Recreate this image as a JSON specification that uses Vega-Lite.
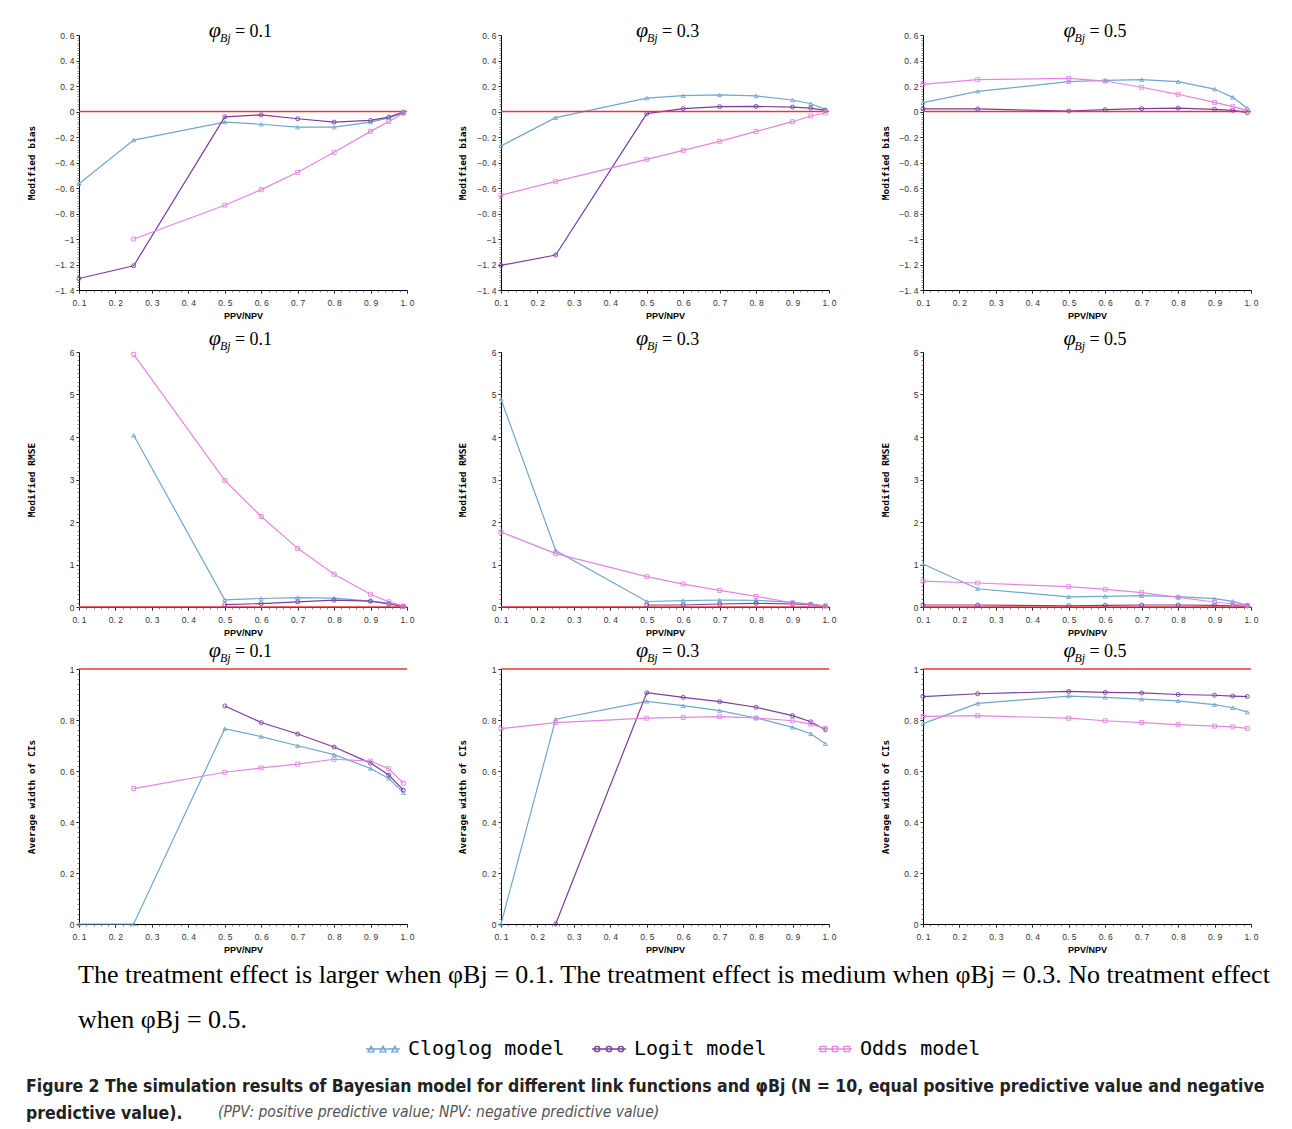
{
"$schema": "https://vega.github.io/schema/vega-lite/v6.json",
"background": "white",
"padding": {"left": 26, "top": 19, "right": 0, "bottom": 0},
"datasets": {"d": [
{"m":"bias","p":0.1,"model":"Cloglog model","x":0.1,"v":-0.566},{"m":"bias","p":0.1,"model":"Cloglog model","x":0.25,"v":-0.224},{"m":"bias","p":0.1,"model":"Cloglog model","x":0.5,"v":-0.083},{"m":"bias","p":0.1,"model":"Cloglog model","x":0.6,"v":-0.1},{"m":"bias","p":0.1,"model":"Cloglog model","x":0.7,"v":-0.123},{"m":"bias","p":0.1,"model":"Cloglog model","x":0.8,"v":-0.123},{"m":"bias","p":0.1,"model":"Cloglog model","x":0.9,"v":-0.083},{"m":"bias","p":0.1,"model":"Cloglog model","x":0.95,"v":-0.05},{"m":"bias","p":0.1,"model":"Cloglog model","x":0.99,"v":-0.01},
{"m":"bias","p":0.1,"model":"Logit model","x":0.1,"v":-1.31},{"m":"bias","p":0.1,"model":"Logit model","x":0.25,"v":-1.21},{"m":"bias","p":0.1,"model":"Logit model","x":0.5,"v":-0.042},{"m":"bias","p":0.1,"model":"Logit model","x":0.6,"v":-0.026},{"m":"bias","p":0.1,"model":"Logit model","x":0.7,"v":-0.057},{"m":"bias","p":0.1,"model":"Logit model","x":0.8,"v":-0.083},{"m":"bias","p":0.1,"model":"Logit model","x":0.9,"v":-0.07},{"m":"bias","p":0.1,"model":"Logit model","x":0.95,"v":-0.044},{"m":"bias","p":0.1,"model":"Logit model","x":0.99,"v":-0.005},
{"m":"bias","p":0.1,"model":"Odds model","x":0.25,"v":-1.0},{"m":"bias","p":0.1,"model":"Odds model","x":0.5,"v":-0.735},{"m":"bias","p":0.1,"model":"Odds model","x":0.6,"v":-0.613},{"m":"bias","p":0.1,"model":"Odds model","x":0.7,"v":-0.477},{"m":"bias","p":0.1,"model":"Odds model","x":0.8,"v":-0.32},{"m":"bias","p":0.1,"model":"Odds model","x":0.9,"v":-0.156},{"m":"bias","p":0.1,"model":"Odds model","x":0.95,"v":-0.078},{"m":"bias","p":0.1,"model":"Odds model","x":0.99,"v":-0.013},
{"m":"bias","p":0.3,"model":"Cloglog model","x":0.1,"v":-0.27},{"m":"bias","p":0.3,"model":"Cloglog model","x":0.25,"v":-0.048},{"m":"bias","p":0.3,"model":"Cloglog model","x":0.5,"v":0.105},{"m":"bias","p":0.3,"model":"Cloglog model","x":0.6,"v":0.124},{"m":"bias","p":0.3,"model":"Cloglog model","x":0.7,"v":0.13},{"m":"bias","p":0.3,"model":"Cloglog model","x":0.8,"v":0.122},{"m":"bias","p":0.3,"model":"Cloglog model","x":0.9,"v":0.09},{"m":"bias","p":0.3,"model":"Cloglog model","x":0.95,"v":0.061},{"m":"bias","p":0.3,"model":"Cloglog model","x":0.99,"v":0.017},
{"m":"bias","p":0.3,"model":"Logit model","x":0.1,"v":-1.207},{"m":"bias","p":0.3,"model":"Logit model","x":0.25,"v":-1.126},{"m":"bias","p":0.3,"model":"Logit model","x":0.5,"v":-0.017},{"m":"bias","p":0.3,"model":"Logit model","x":0.6,"v":0.022},{"m":"bias","p":0.3,"model":"Logit model","x":0.7,"v":0.038},{"m":"bias","p":0.3,"model":"Logit model","x":0.8,"v":0.04},{"m":"bias","p":0.3,"model":"Logit model","x":0.9,"v":0.035},{"m":"bias","p":0.3,"model":"Logit model","x":0.95,"v":0.027},{"m":"bias","p":0.3,"model":"Logit model","x":0.99,"v":0.009},
{"m":"bias","p":0.3,"model":"Odds model","x":0.1,"v":-0.657},{"m":"bias","p":0.3,"model":"Odds model","x":0.25,"v":-0.548},{"m":"bias","p":0.3,"model":"Odds model","x":0.5,"v":-0.375},{"m":"bias","p":0.3,"model":"Odds model","x":0.6,"v":-0.305},{"m":"bias","p":0.3,"model":"Odds model","x":0.7,"v":-0.234},{"m":"bias","p":0.3,"model":"Odds model","x":0.8,"v":-0.156},{"m":"bias","p":0.3,"model":"Odds model","x":0.9,"v":-0.08},{"m":"bias","p":0.3,"model":"Odds model","x":0.95,"v":-0.035},{"m":"bias","p":0.3,"model":"Odds model","x":0.99,"v":-0.012},
{"m":"bias","p":0.5,"model":"Cloglog model","x":0.1,"v":0.069},{"m":"bias","p":0.5,"model":"Cloglog model","x":0.25,"v":0.158},{"m":"bias","p":0.5,"model":"Cloglog model","x":0.5,"v":0.234},{"m":"bias","p":0.5,"model":"Cloglog model","x":0.6,"v":0.244},{"m":"bias","p":0.5,"model":"Cloglog model","x":0.7,"v":0.25},{"m":"bias","p":0.5,"model":"Cloglog model","x":0.8,"v":0.234},{"m":"bias","p":0.5,"model":"Cloglog model","x":0.9,"v":0.176},{"m":"bias","p":0.5,"model":"Cloglog model","x":0.95,"v":0.111},{"m":"bias","p":0.5,"model":"Cloglog model","x":0.99,"v":0.025},
{"m":"bias","p":0.5,"model":"Logit model","x":0.1,"v":0.02},{"m":"bias","p":0.5,"model":"Logit model","x":0.25,"v":0.02},{"m":"bias","p":0.5,"model":"Logit model","x":0.5,"v":0.004},{"m":"bias","p":0.5,"model":"Logit model","x":0.6,"v":0.014},{"m":"bias","p":0.5,"model":"Logit model","x":0.7,"v":0.022},{"m":"bias","p":0.5,"model":"Logit model","x":0.8,"v":0.027},{"m":"bias","p":0.5,"model":"Logit model","x":0.9,"v":0.017},{"m":"bias","p":0.5,"model":"Logit model","x":0.95,"v":0.009},{"m":"bias","p":0.5,"model":"Logit model","x":0.99,"v":-0.009},
{"m":"bias","p":0.5,"model":"Odds model","x":0.1,"v":0.213},{"m":"bias","p":0.5,"model":"Odds model","x":0.25,"v":0.25},{"m":"bias","p":0.5,"model":"Odds model","x":0.5,"v":0.26},{"m":"bias","p":0.5,"model":"Odds model","x":0.6,"v":0.239},{"m":"bias","p":0.5,"model":"Odds model","x":0.7,"v":0.19},{"m":"bias","p":0.5,"model":"Odds model","x":0.8,"v":0.135},{"m":"bias","p":0.5,"model":"Odds model","x":0.9,"v":0.072},{"m":"bias","p":0.5,"model":"Odds model","x":0.95,"v":0.038},{"m":"bias","p":0.5,"model":"Odds model","x":0.99,"v":0.009},
{"m":"rmse","p":0.1,"model":"Cloglog model","x":0.25,"v":4.04},{"m":"rmse","p":0.1,"model":"Cloglog model","x":0.5,"v":0.17},{"m":"rmse","p":0.1,"model":"Cloglog model","x":0.6,"v":0.2},{"m":"rmse","p":0.1,"model":"Cloglog model","x":0.7,"v":0.22},{"m":"rmse","p":0.1,"model":"Cloglog model","x":0.8,"v":0.21},{"m":"rmse","p":0.1,"model":"Cloglog model","x":0.9,"v":0.14},{"m":"rmse","p":0.1,"model":"Cloglog model","x":0.95,"v":0.09},{"m":"rmse","p":0.1,"model":"Cloglog model","x":0.99,"v":0.02},
{"m":"rmse","p":0.1,"model":"Logit model","x":0.5,"v":0.055},{"m":"rmse","p":0.1,"model":"Logit model","x":0.6,"v":0.08},{"m":"rmse","p":0.1,"model":"Logit model","x":0.7,"v":0.12},{"m":"rmse","p":0.1,"model":"Logit model","x":0.8,"v":0.16},{"m":"rmse","p":0.1,"model":"Logit model","x":0.9,"v":0.14},{"m":"rmse","p":0.1,"model":"Logit model","x":0.95,"v":0.07},{"m":"rmse","p":0.1,"model":"Logit model","x":0.99,"v":0.015},
{"m":"rmse","p":0.1,"model":"Odds model","x":0.25,"v":5.945},{"m":"rmse","p":0.1,"model":"Odds model","x":0.5,"v":2.98},{"m":"rmse","p":0.1,"model":"Odds model","x":0.6,"v":2.13},{"m":"rmse","p":0.1,"model":"Odds model","x":0.7,"v":1.38},{"m":"rmse","p":0.1,"model":"Odds model","x":0.8,"v":0.77},{"m":"rmse","p":0.1,"model":"Odds model","x":0.9,"v":0.3},{"m":"rmse","p":0.1,"model":"Odds model","x":0.95,"v":0.12},{"m":"rmse","p":0.1,"model":"Odds model","x":0.99,"v":0.02},
{"m":"rmse","p":0.3,"model":"Cloglog model","x":0.1,"v":4.89},{"m":"rmse","p":0.3,"model":"Cloglog model","x":0.25,"v":1.33},{"m":"rmse","p":0.3,"model":"Cloglog model","x":0.5,"v":0.13},{"m":"rmse","p":0.3,"model":"Cloglog model","x":0.6,"v":0.15},{"m":"rmse","p":0.3,"model":"Cloglog model","x":0.7,"v":0.165},{"m":"rmse","p":0.3,"model":"Cloglog model","x":0.8,"v":0.157},{"m":"rmse","p":0.3,"model":"Cloglog model","x":0.9,"v":0.11},{"m":"rmse","p":0.3,"model":"Cloglog model","x":0.95,"v":0.07},{"m":"rmse","p":0.3,"model":"Cloglog model","x":0.99,"v":0.03},
{"m":"rmse","p":0.3,"model":"Logit model","x":0.5,"v":0.047},{"m":"rmse","p":0.3,"model":"Logit model","x":0.6,"v":0.047},{"m":"rmse","p":0.3,"model":"Logit model","x":0.7,"v":0.07},{"m":"rmse","p":0.3,"model":"Logit model","x":0.8,"v":0.086},{"m":"rmse","p":0.3,"model":"Logit model","x":0.9,"v":0.07},{"m":"rmse","p":0.3,"model":"Logit model","x":0.95,"v":0.055},{"m":"rmse","p":0.3,"model":"Logit model","x":0.99,"v":0.024},
{"m":"rmse","p":0.3,"model":"Odds model","x":0.1,"v":1.765},{"m":"rmse","p":0.3,"model":"Odds model","x":0.25,"v":1.255},{"m":"rmse","p":0.3,"model":"Odds model","x":0.5,"v":0.714},{"m":"rmse","p":0.3,"model":"Odds model","x":0.6,"v":0.54},{"m":"rmse","p":0.3,"model":"Odds model","x":0.7,"v":0.39},{"m":"rmse","p":0.3,"model":"Odds model","x":0.8,"v":0.25},{"m":"rmse","p":0.3,"model":"Odds model","x":0.9,"v":0.1},{"m":"rmse","p":0.3,"model":"Odds model","x":0.95,"v":0.063},{"m":"rmse","p":0.3,"model":"Odds model","x":0.99,"v":0.024},
{"m":"rmse","p":0.5,"model":"Cloglog model","x":0.1,"v":1.01},{"m":"rmse","p":0.5,"model":"Cloglog model","x":0.25,"v":0.43},{"m":"rmse","p":0.5,"model":"Cloglog model","x":0.5,"v":0.24},{"m":"rmse","p":0.5,"model":"Cloglog model","x":0.6,"v":0.25},{"m":"rmse","p":0.5,"model":"Cloglog model","x":0.7,"v":0.267},{"m":"rmse","p":0.5,"model":"Cloglog model","x":0.8,"v":0.243},{"m":"rmse","p":0.5,"model":"Cloglog model","x":0.9,"v":0.196},{"m":"rmse","p":0.5,"model":"Cloglog model","x":0.95,"v":0.133},{"m":"rmse","p":0.5,"model":"Cloglog model","x":0.99,"v":0.04},
{"m":"rmse","p":0.5,"model":"Logit model","x":0.1,"v":0.047},{"m":"rmse","p":0.5,"model":"Logit model","x":0.25,"v":0.047},{"m":"rmse","p":0.5,"model":"Logit model","x":0.5,"v":0.03},{"m":"rmse","p":0.5,"model":"Logit model","x":0.6,"v":0.04},{"m":"rmse","p":0.5,"model":"Logit model","x":0.7,"v":0.047},{"m":"rmse","p":0.5,"model":"Logit model","x":0.8,"v":0.047},{"m":"rmse","p":0.5,"model":"Logit model","x":0.9,"v":0.04},{"m":"rmse","p":0.5,"model":"Logit model","x":0.95,"v":0.03},{"m":"rmse","p":0.5,"model":"Logit model","x":0.99,"v":0.024},
{"m":"rmse","p":0.5,"model":"Odds model","x":0.1,"v":0.61},{"m":"rmse","p":0.5,"model":"Odds model","x":0.25,"v":0.565},{"m":"rmse","p":0.5,"model":"Odds model","x":0.5,"v":0.478},{"m":"rmse","p":0.5,"model":"Odds model","x":0.6,"v":0.416},{"m":"rmse","p":0.5,"model":"Odds model","x":0.7,"v":0.337},{"m":"rmse","p":0.5,"model":"Odds model","x":0.8,"v":0.227},{"m":"rmse","p":0.5,"model":"Odds model","x":0.9,"v":0.118},{"m":"rmse","p":0.5,"model":"Odds model","x":0.95,"v":0.07},{"m":"rmse","p":0.5,"model":"Odds model","x":0.99,"v":0.04},
{"m":"ciw","p":0.1,"model":"Cloglog model","x":0.1,"v":0},{"m":"ciw","p":0.1,"model":"Cloglog model","x":0.25,"v":0},{"m":"ciw","p":0.1,"model":"Cloglog model","x":0.5,"v":0.766},{"m":"ciw","p":0.1,"model":"Cloglog model","x":0.6,"v":0.735},{"m":"ciw","p":0.1,"model":"Cloglog model","x":0.7,"v":0.699},{"m":"ciw","p":0.1,"model":"Cloglog model","x":0.8,"v":0.664},{"m":"ciw","p":0.1,"model":"Cloglog model","x":0.9,"v":0.61},{"m":"ciw","p":0.1,"model":"Cloglog model","x":0.95,"v":0.571},{"m":"ciw","p":0.1,"model":"Cloglog model","x":0.99,"v":0.515},
{"m":"ciw","p":0.1,"model":"Logit model","x":0.5,"v":0.855},{"m":"ciw","p":0.1,"model":"Logit model","x":0.6,"v":0.79},{"m":"ciw","p":0.1,"model":"Logit model","x":0.7,"v":0.745},{"m":"ciw","p":0.1,"model":"Logit model","x":0.8,"v":0.694},{"m":"ciw","p":0.1,"model":"Logit model","x":0.9,"v":0.631},{"m":"ciw","p":0.1,"model":"Logit model","x":0.95,"v":0.584},{"m":"ciw","p":0.1,"model":"Logit model","x":0.99,"v":0.525},
{"m":"ciw","p":0.1,"model":"Odds model","x":0.25,"v":0.531},{"m":"ciw","p":0.1,"model":"Odds model","x":0.5,"v":0.595},{"m":"ciw","p":0.1,"model":"Odds model","x":0.6,"v":0.612},{"m":"ciw","p":0.1,"model":"Odds model","x":0.7,"v":0.627},{"m":"ciw","p":0.1,"model":"Odds model","x":0.8,"v":0.646},{"m":"ciw","p":0.1,"model":"Odds model","x":0.9,"v":0.639},{"m":"ciw","p":0.1,"model":"Odds model","x":0.95,"v":0.609},{"m":"ciw","p":0.1,"model":"Odds model","x":0.99,"v":0.552},
{"m":"ciw","p":0.3,"model":"Cloglog model","x":0.1,"v":0},{"m":"ciw","p":0.3,"model":"Cloglog model","x":0.25,"v":0.803},{"m":"ciw","p":0.3,"model":"Cloglog model","x":0.5,"v":0.873},{"m":"ciw","p":0.3,"model":"Cloglog model","x":0.6,"v":0.856},{"m":"ciw","p":0.3,"model":"Cloglog model","x":0.7,"v":0.837},{"m":"ciw","p":0.3,"model":"Cloglog model","x":0.8,"v":0.808},{"m":"ciw","p":0.3,"model":"Cloglog model","x":0.9,"v":0.771},{"m":"ciw","p":0.3,"model":"Cloglog model","x":0.95,"v":0.746},{"m":"ciw","p":0.3,"model":"Cloglog model","x":0.99,"v":0.707},
{"m":"ciw","p":0.3,"model":"Logit model","x":0.25,"v":0},{"m":"ciw","p":0.3,"model":"Logit model","x":0.5,"v":0.907},{"m":"ciw","p":0.3,"model":"Logit model","x":0.6,"v":0.889},{"m":"ciw","p":0.3,"model":"Logit model","x":0.7,"v":0.872},{"m":"ciw","p":0.3,"model":"Logit model","x":0.8,"v":0.85},{"m":"ciw","p":0.3,"model":"Logit model","x":0.9,"v":0.817},{"m":"ciw","p":0.3,"model":"Logit model","x":0.95,"v":0.793},{"m":"ciw","p":0.3,"model":"Logit model","x":0.99,"v":0.762},
{"m":"ciw","p":0.3,"model":"Odds model","x":0.1,"v":0.766},{"m":"ciw","p":0.3,"model":"Odds model","x":0.25,"v":0.79},{"m":"ciw","p":0.3,"model":"Odds model","x":0.5,"v":0.807},{"m":"ciw","p":0.3,"model":"Odds model","x":0.6,"v":0.81},{"m":"ciw","p":0.3,"model":"Odds model","x":0.7,"v":0.813},{"m":"ciw","p":0.3,"model":"Odds model","x":0.8,"v":0.808},{"m":"ciw","p":0.3,"model":"Odds model","x":0.9,"v":0.797},{"m":"ciw","p":0.3,"model":"Odds model","x":0.95,"v":0.784},{"m":"ciw","p":0.3,"model":"Odds model","x":0.99,"v":0.767},
{"m":"ciw","p":0.5,"model":"Cloglog model","x":0.1,"v":0.786},{"m":"ciw","p":0.5,"model":"Cloglog model","x":0.25,"v":0.865},{"m":"ciw","p":0.5,"model":"Cloglog model","x":0.5,"v":0.894},{"m":"ciw","p":0.5,"model":"Cloglog model","x":0.6,"v":0.889},{"m":"ciw","p":0.5,"model":"Cloglog model","x":0.7,"v":0.882},{"m":"ciw","p":0.5,"model":"Cloglog model","x":0.8,"v":0.875},{"m":"ciw","p":0.5,"model":"Cloglog model","x":0.9,"v":0.86},{"m":"ciw","p":0.5,"model":"Cloglog model","x":0.95,"v":0.848},{"m":"ciw","p":0.5,"model":"Cloglog model","x":0.99,"v":0.831},
{"m":"ciw","p":0.5,"model":"Logit model","x":0.1,"v":0.892},{"m":"ciw","p":0.5,"model":"Logit model","x":0.25,"v":0.903},{"m":"ciw","p":0.5,"model":"Logit model","x":0.5,"v":0.912},{"m":"ciw","p":0.5,"model":"Logit model","x":0.6,"v":0.908},{"m":"ciw","p":0.5,"model":"Logit model","x":0.7,"v":0.906},{"m":"ciw","p":0.5,"model":"Logit model","x":0.8,"v":0.9},{"m":"ciw","p":0.5,"model":"Logit model","x":0.9,"v":0.897},{"m":"ciw","p":0.5,"model":"Logit model","x":0.95,"v":0.894},{"m":"ciw","p":0.5,"model":"Logit model","x":0.99,"v":0.892},
{"m":"ciw","p":0.5,"model":"Odds model","x":0.1,"v":0.814},{"m":"ciw","p":0.5,"model":"Odds model","x":0.25,"v":0.817},{"m":"ciw","p":0.5,"model":"Odds model","x":0.5,"v":0.807},{"m":"ciw","p":0.5,"model":"Odds model","x":0.6,"v":0.797},{"m":"ciw","p":0.5,"model":"Odds model","x":0.7,"v":0.79},{"m":"ciw","p":0.5,"model":"Odds model","x":0.8,"v":0.782},{"m":"ciw","p":0.5,"model":"Odds model","x":0.9,"v":0.776},{"m":"ciw","p":0.5,"model":"Odds model","x":0.95,"v":0.773},{"m":"ciw","p":0.5,"model":"Odds model","x":0.99,"v":0.767}
]},
"title": {"text": "(PPV: positive predictive value; NPV: negative predictive value)", "orient": "bottom", "anchor": "start", "offset": -17, "dx": 192, "font": "DejaVu Sans Condensed, Roboto", "fontStyle": "italic", "fontWeight": "normal", "fontSize": 15.5, "color": "#555"},
"vconcat": [
{
"title": {"text": ["Figure 2 The simulation results of Bayesian model for different link functions and φBj (N = 10, equal positive predictive value and negative", "predictive value)."], "orient": "bottom", "anchor": "start", "offset": 45, "font": "DejaVu Sans Condensed, Roboto", "fontWeight": "bold", "fontSize": 17.5, "lineHeight": 27, "color": "#222"},
"vconcat": [
{
"columns": 3,
"spacing": {"row": 62, "column": 94},
"bounds": "flush",
"title": {"text": ["The treatment effect is larger when φBj = 0.1. The treatment effect is medium when φBj = 0.3. No treatment effect", "when φBj = 0.5."], "orient": "bottom", "anchor": "start", "frame": "group", "offset": 7, "dx": -1, "font": "Liberation Serif", "fontSize": 26, "fontWeight": "normal", "color": "#000", "lineHeight": 45},
"concat": [
{"width": 328, "height": 255, "resolve": {"axis": {"x": "independent", "y": "independent"}}, "layer": [
 {"data": {"name": "d"}, "transform": [{"filter": "datum.m==='bias' && datum.p===0.1"}], "mark": {"type": "line", "strokeWidth": 1.2}, "encoding": {
   "x": {"field": "x", "type": "quantitative", "scale": {"domain": [0.1, 1.0], "nice": false, "zero": false}, "axis": {"values": [0.1,0.2,0.3,0.4,0.5,0.6,0.7,0.8,0.9,1.0], "labelExpr": "replace(format(datum.value, '.1f'), '.', '. ')", "title": "PPV/NPV"}},
   "y": {"field": "v", "type": "quantitative", "scale": {"domain": [-1.4, 0.6], "nice": false, "zero": false}, "axis": {"values": [-1.4,-1.2,-1,-0.8,-0.6,-0.4,-0.2,0,0.2,0.4,0.6], "labelExpr": "replace(format(datum.value, '~g'), '.', '. ')", "title": "Modified bias", "titlePadding": 13}},
   "detail": {"field": "model"},
   "color": {"condition": [{"test": "datum.model==='Cloglog model'", "value": "#6fa7cf"}, {"test": "datum.model==='Logit model'", "value": "#7a3e9d"}], "value": "#e486e1"}}},
 {"data": {"values": [{}]}, "mark": {"type": "rule", "color": "#f03434", "strokeWidth": 1.3}, "encoding": {"y": {"datum": 0, "type": "quantitative", "axis": null}}},
 {"data": {"name": "d"}, "transform": [{"filter": "datum.m==='bias' && datum.p===0.1"}], "mark": {"type": "point", "filled": false, "size": 16, "strokeWidth": 0.9, "opacity": 1}, "encoding": {
   "x": {"field": "x", "type": "quantitative", "axis": {"orient": "bottom", "tickCount": 45, "labels": false, "domain": false, "title": null, "tickSize": 2, "tickWidth": 0.7, "tickColor": "#555"}},
   "y": {"field": "v", "type": "quantitative", "axis": {"orient": "left", "tickCount": 100, "labels": false, "domain": false, "title": null, "tickSize": 2, "tickWidth": 0.7, "tickColor": "#555"}},
   "color": {"condition": [{"test": "datum.model==='Cloglog model'", "value": "#6fa7cf"}, {"test": "datum.model==='Logit model'", "value": "#7a3e9d"}], "value": "#e486e1"},
   "shape": {"condition": [{"test": "datum.model==='Cloglog model'", "value": "triangle-up"}, {"test": "datum.model==='Logit model'", "value": "circle"}], "value": "square"}}},
 {"data": {"name": "d"}, "transform": [{"filter": "false"}], "mark": {"type": "point", "filled": false, "strokeWidth": 1.3, "opacity": 1}, "encoding": {
   "x": {"field": "x", "type": "quantitative", "axis": null},
   "y": {"field": "v", "type": "quantitative", "axis": null},
   "color": {"field": "model", "type": "nominal", "scale": {"domain": ["Cloglog model","Logit model","Odds model"], "range": ["#6fa7cf","#7a3e9d","#e486e1"]}, "legend": {"orient": "none", "legendX": 286, "legendY": 996, "direction": "horizontal", "columns": 3, "gridAlign": "all", "title": null}},
   "shape": {"field": "model", "type": "nominal", "scale": {"domain": ["Cloglog model","Logit model","Odds model"], "range": ["M-1,0H1M-0.88,0.17L-0.7,-0.17L-0.52,0.17ZM-0.18,0.17L0,-0.17L0.18,0.17ZM0.52,0.17L0.7,-0.17L0.88,0.17Z", "M-1,0H1M-0.54,0A0.16,0.16,0,1,1,-0.86,0A0.16,0.16,0,1,1,-0.54,0ZM0.16,0A0.16,0.16,0,1,1,-0.16,0A0.16,0.16,0,1,1,0.16,0ZM0.86,0A0.16,0.16,0,1,1,0.54,0A0.16,0.16,0,1,1,0.86,0Z", "M-1,0H1M-0.86,-0.16H-0.54V0.16H-0.86ZM-0.16,-0.16H0.16V0.16H-0.16ZM0.54,-0.16H0.86V0.16H0.54Z"]}, "legend": {"orient": "none", "legendX": 286, "legendY": 996, "direction": "horizontal", "columns": 3, "gridAlign": "all", "title": null}}}},
 {"data": {"values": [{}]}, "mark": {"type": "text", "text": "φ", "font": "Liberation Serif", "fontStyle": "italic", "fontSize": 22, "align": "center", "baseline": "alphabetic", "dx": -23, "dy": 2, "color": "#000"}, "encoding": {"x": {"datum": 0.536, "type": "quantitative", "axis": null}, "y": {"datum": 0.6, "type": "quantitative", "axis": null}}},
 {"data": {"values": [{}]}, "mark": {"type": "text", "text": "Bj", "font": "Liberation Serif", "fontStyle": "italic", "fontSize": 12, "align": "left", "baseline": "alphabetic", "dx": -18, "dy": 7, "color": "#000"}, "encoding": {"x": {"datum": 0.536, "type": "quantitative", "axis": null}, "y": {"datum": 0.6, "type": "quantitative", "axis": null}}},
 {"data": {"values": [{}]}, "mark": {"type": "text", "text": "= 0.1", "font": "Liberation Serif", "fontSize": 18, "align": "left", "baseline": "alphabetic", "dx": -3, "dy": 2, "color": "#000"}, "encoding": {"x": {"datum": 0.536, "type": "quantitative", "axis": null}, "y": {"datum": 0.6, "type": "quantitative", "axis": null}}}
]},
{"width": 328, "height": 255, "resolve": {"axis": {"x": "independent", "y": "independent"}}, "layer": [
 {"data": {"name": "d"}, "transform": [{"filter": "datum.m==='bias' && datum.p===0.3"}], "mark": {"type": "line", "strokeWidth": 1.2}, "encoding": {
   "x": {"field": "x", "type": "quantitative", "scale": {"domain": [0.1, 1.0], "nice": false, "zero": false}, "axis": {"values": [0.1,0.2,0.3,0.4,0.5,0.6,0.7,0.8,0.9,1.0], "labelExpr": "replace(format(datum.value, '.1f'), '.', '. ')", "title": "PPV/NPV"}},
   "y": {"field": "v", "type": "quantitative", "scale": {"domain": [-1.4, 0.6], "nice": false, "zero": false}, "axis": {"values": [-1.4,-1.2,-1,-0.8,-0.6,-0.4,-0.2,0,0.2,0.4,0.6], "labelExpr": "replace(format(datum.value, '~g'), '.', '. ')", "title": "Modified bias", "titlePadding": 4}},
   "detail": {"field": "model"},
   "color": {"condition": [{"test": "datum.model==='Cloglog model'", "value": "#6fa7cf"}, {"test": "datum.model==='Logit model'", "value": "#7a3e9d"}], "value": "#e486e1"}}},
 {"data": {"values": [{}]}, "mark": {"type": "rule", "color": "#f03434", "strokeWidth": 1.3}, "encoding": {"y": {"datum": 0, "type": "quantitative", "axis": null}}},
 {"data": {"name": "d"}, "transform": [{"filter": "datum.m==='bias' && datum.p===0.3"}], "mark": {"type": "point", "filled": false, "size": 16, "strokeWidth": 0.9, "opacity": 1}, "encoding": {
   "x": {"field": "x", "type": "quantitative", "axis": {"orient": "bottom", "tickCount": 45, "labels": false, "domain": false, "title": null, "tickSize": 2, "tickWidth": 0.7, "tickColor": "#555"}},
   "y": {"field": "v", "type": "quantitative", "axis": {"orient": "left", "tickCount": 100, "labels": false, "domain": false, "title": null, "tickSize": 2, "tickWidth": 0.7, "tickColor": "#555"}},
   "color": {"condition": [{"test": "datum.model==='Cloglog model'", "value": "#6fa7cf"}, {"test": "datum.model==='Logit model'", "value": "#7a3e9d"}], "value": "#e486e1"},
   "shape": {"condition": [{"test": "datum.model==='Cloglog model'", "value": "triangle-up"}, {"test": "datum.model==='Logit model'", "value": "circle"}], "value": "square"}}},
 {"data": {"values": [{}]}, "mark": {"type": "text", "text": "φ", "font": "Liberation Serif", "fontStyle": "italic", "fontSize": 22, "align": "center", "baseline": "alphabetic", "dx": -23, "dy": 2, "color": "#000"}, "encoding": {"x": {"datum": 0.55, "type": "quantitative", "axis": null}, "y": {"datum": 0.6, "type": "quantitative", "axis": null}}},
 {"data": {"values": [{}]}, "mark": {"type": "text", "text": "Bj", "font": "Liberation Serif", "fontStyle": "italic", "fontSize": 12, "align": "left", "baseline": "alphabetic", "dx": -18, "dy": 7, "color": "#000"}, "encoding": {"x": {"datum": 0.55, "type": "quantitative", "axis": null}, "y": {"datum": 0.6, "type": "quantitative", "axis": null}}},
 {"data": {"values": [{}]}, "mark": {"type": "text", "text": "= 0.3", "font": "Liberation Serif", "fontSize": 18, "align": "left", "baseline": "alphabetic", "dx": -3, "dy": 2, "color": "#000"}, "encoding": {"x": {"datum": 0.55, "type": "quantitative", "axis": null}, "y": {"datum": 0.6, "type": "quantitative", "axis": null}}}
]},
{"width": 328, "height": 255, "resolve": {"axis": {"x": "independent", "y": "independent"}}, "layer": [
 {"data": {"name": "d"}, "transform": [{"filter": "datum.m==='bias' && datum.p===0.5"}], "mark": {"type": "line", "strokeWidth": 1.2}, "encoding": {
   "x": {"field": "x", "type": "quantitative", "scale": {"domain": [0.1, 1.0], "nice": false, "zero": false}, "axis": {"values": [0.1,0.2,0.3,0.4,0.5,0.6,0.7,0.8,0.9,1.0], "labelExpr": "replace(format(datum.value, '.1f'), '.', '. ')", "title": "PPV/NPV"}},
   "y": {"field": "v", "type": "quantitative", "scale": {"domain": [-1.4, 0.6], "nice": false, "zero": false}, "axis": {"values": [-1.4,-1.2,-1,-0.8,-0.6,-0.4,-0.2,0,0.2,0.4,0.6], "labelExpr": "replace(format(datum.value, '~g'), '.', '. ')", "title": "Modified bias", "titlePadding": 3}},
   "detail": {"field": "model"},
   "color": {"condition": [{"test": "datum.model==='Cloglog model'", "value": "#6fa7cf"}, {"test": "datum.model==='Logit model'", "value": "#7a3e9d"}], "value": "#e486e1"}}},
 {"data": {"values": [{}]}, "mark": {"type": "rule", "color": "#f03434", "strokeWidth": 1.3}, "encoding": {"y": {"datum": 0, "type": "quantitative", "axis": null}}},
 {"data": {"name": "d"}, "transform": [{"filter": "datum.m==='bias' && datum.p===0.5"}], "mark": {"type": "point", "filled": false, "size": 16, "strokeWidth": 0.9, "opacity": 1}, "encoding": {
   "x": {"field": "x", "type": "quantitative", "axis": {"orient": "bottom", "tickCount": 45, "labels": false, "domain": false, "title": null, "tickSize": 2, "tickWidth": 0.7, "tickColor": "#555"}},
   "y": {"field": "v", "type": "quantitative", "axis": {"orient": "left", "tickCount": 100, "labels": false, "domain": false, "title": null, "tickSize": 2, "tickWidth": 0.7, "tickColor": "#555"}},
   "color": {"condition": [{"test": "datum.model==='Cloglog model'", "value": "#6fa7cf"}, {"test": "datum.model==='Logit model'", "value": "#7a3e9d"}], "value": "#e486e1"},
   "shape": {"condition": [{"test": "datum.model==='Cloglog model'", "value": "triangle-up"}, {"test": "datum.model==='Logit model'", "value": "circle"}], "value": "square"}}},
 {"data": {"values": [{}]}, "mark": {"type": "text", "text": "φ", "font": "Liberation Serif", "fontStyle": "italic", "fontSize": 22, "align": "center", "baseline": "alphabetic", "dx": -23, "dy": 2, "color": "#000"}, "encoding": {"x": {"datum": 0.565, "type": "quantitative", "axis": null}, "y": {"datum": 0.6, "type": "quantitative", "axis": null}}},
 {"data": {"values": [{}]}, "mark": {"type": "text", "text": "Bj", "font": "Liberation Serif", "fontStyle": "italic", "fontSize": 12, "align": "left", "baseline": "alphabetic", "dx": -18, "dy": 7, "color": "#000"}, "encoding": {"x": {"datum": 0.565, "type": "quantitative", "axis": null}, "y": {"datum": 0.6, "type": "quantitative", "axis": null}}},
 {"data": {"values": [{}]}, "mark": {"type": "text", "text": "= 0.5", "font": "Liberation Serif", "fontSize": 18, "align": "left", "baseline": "alphabetic", "dx": -3, "dy": 2, "color": "#000"}, "encoding": {"x": {"datum": 0.565, "type": "quantitative", "axis": null}, "y": {"datum": 0.6, "type": "quantitative", "axis": null}}}
]},
{"width": 328, "height": 255, "resolve": {"axis": {"x": "independent", "y": "independent"}}, "layer": [
 {"data": {"name": "d"}, "transform": [{"filter": "datum.m==='rmse' && datum.p===0.1"}], "mark": {"type": "line", "strokeWidth": 1.2}, "encoding": {
   "x": {"field": "x", "type": "quantitative", "scale": {"domain": [0.1, 1.0], "nice": false, "zero": false}, "axis": {"values": [0.1,0.2,0.3,0.4,0.5,0.6,0.7,0.8,0.9,1.0], "labelExpr": "replace(format(datum.value, '.1f'), '.', '. ')", "title": "PPV/NPV"}},
   "y": {"field": "v", "type": "quantitative", "scale": {"domain": [0, 6], "nice": false, "zero": false}, "axis": {"values": [0,1,2,3,4,5,6], "labelExpr": "replace(format(datum.value, '~g'), '.', '. ')", "title": "Modified RMSE", "titlePadding": 13}},
   "detail": {"field": "model"},
   "color": {"condition": [{"test": "datum.model==='Cloglog model'", "value": "#6fa7cf"}, {"test": "datum.model==='Logit model'", "value": "#7a3e9d"}], "value": "#e486e1"}}},
 {"data": {"values": [{}]}, "mark": {"type": "rule", "color": "#f03434", "strokeWidth": 1.3}, "encoding": {"y": {"datum": 0, "type": "quantitative", "axis": null}}},
 {"data": {"name": "d"}, "transform": [{"filter": "datum.m==='rmse' && datum.p===0.1"}], "mark": {"type": "point", "filled": false, "size": 16, "strokeWidth": 0.9, "opacity": 1}, "encoding": {
   "x": {"field": "x", "type": "quantitative", "axis": {"orient": "bottom", "tickCount": 45, "labels": false, "domain": false, "title": null, "tickSize": 2, "tickWidth": 0.7, "tickColor": "#555"}},
   "y": {"field": "v", "type": "quantitative", "axis": {"orient": "left", "tickCount": 60, "labels": false, "domain": false, "title": null, "tickSize": 2, "tickWidth": 0.7, "tickColor": "#555"}},
   "color": {"condition": [{"test": "datum.model==='Cloglog model'", "value": "#6fa7cf"}, {"test": "datum.model==='Logit model'", "value": "#7a3e9d"}], "value": "#e486e1"},
   "shape": {"condition": [{"test": "datum.model==='Cloglog model'", "value": "triangle-up"}, {"test": "datum.model==='Logit model'", "value": "circle"}], "value": "square"}}},
 {"data": {"values": [{}]}, "mark": {"type": "text", "text": "φ", "font": "Liberation Serif", "fontStyle": "italic", "fontSize": 22, "align": "center", "baseline": "alphabetic", "dx": -23, "dy": -7, "color": "#000"}, "encoding": {"x": {"datum": 0.536, "type": "quantitative", "axis": null}, "y": {"datum": 6, "type": "quantitative", "axis": null}}},
 {"data": {"values": [{}]}, "mark": {"type": "text", "text": "Bj", "font": "Liberation Serif", "fontStyle": "italic", "fontSize": 12, "align": "left", "baseline": "alphabetic", "dx": -18, "dy": -2, "color": "#000"}, "encoding": {"x": {"datum": 0.536, "type": "quantitative", "axis": null}, "y": {"datum": 6, "type": "quantitative", "axis": null}}},
 {"data": {"values": [{}]}, "mark": {"type": "text", "text": "= 0.1", "font": "Liberation Serif", "fontSize": 18, "align": "left", "baseline": "alphabetic", "dx": -3, "dy": -7, "color": "#000"}, "encoding": {"x": {"datum": 0.536, "type": "quantitative", "axis": null}, "y": {"datum": 6, "type": "quantitative", "axis": null}}}
]},
{"width": 328, "height": 255, "resolve": {"axis": {"x": "independent", "y": "independent"}}, "layer": [
 {"data": {"name": "d"}, "transform": [{"filter": "datum.m==='rmse' && datum.p===0.3"}], "mark": {"type": "line", "strokeWidth": 1.2}, "encoding": {
   "x": {"field": "x", "type": "quantitative", "scale": {"domain": [0.1, 1.0], "nice": false, "zero": false}, "axis": {"values": [0.1,0.2,0.3,0.4,0.5,0.6,0.7,0.8,0.9,1.0], "labelExpr": "replace(format(datum.value, '.1f'), '.', '. ')", "title": "PPV/NPV"}},
   "y": {"field": "v", "type": "quantitative", "scale": {"domain": [0, 6], "nice": false, "zero": false}, "axis": {"values": [0,1,2,3,4,5,6], "labelExpr": "replace(format(datum.value, '~g'), '.', '. ')", "title": "Modified RMSE", "titlePadding": 4}},
   "detail": {"field": "model"},
   "color": {"condition": [{"test": "datum.model==='Cloglog model'", "value": "#6fa7cf"}, {"test": "datum.model==='Logit model'", "value": "#7a3e9d"}], "value": "#e486e1"}}},
 {"data": {"values": [{}]}, "mark": {"type": "rule", "color": "#f03434", "strokeWidth": 1.3}, "encoding": {"y": {"datum": 0, "type": "quantitative", "axis": null}}},
 {"data": {"name": "d"}, "transform": [{"filter": "datum.m==='rmse' && datum.p===0.3"}], "mark": {"type": "point", "filled": false, "size": 16, "strokeWidth": 0.9, "opacity": 1}, "encoding": {
   "x": {"field": "x", "type": "quantitative", "axis": {"orient": "bottom", "tickCount": 45, "labels": false, "domain": false, "title": null, "tickSize": 2, "tickWidth": 0.7, "tickColor": "#555"}},
   "y": {"field": "v", "type": "quantitative", "axis": {"orient": "left", "tickCount": 60, "labels": false, "domain": false, "title": null, "tickSize": 2, "tickWidth": 0.7, "tickColor": "#555"}},
   "color": {"condition": [{"test": "datum.model==='Cloglog model'", "value": "#6fa7cf"}, {"test": "datum.model==='Logit model'", "value": "#7a3e9d"}], "value": "#e486e1"},
   "shape": {"condition": [{"test": "datum.model==='Cloglog model'", "value": "triangle-up"}, {"test": "datum.model==='Logit model'", "value": "circle"}], "value": "square"}}},
 {"data": {"values": [{}]}, "mark": {"type": "text", "text": "φ", "font": "Liberation Serif", "fontStyle": "italic", "fontSize": 22, "align": "center", "baseline": "alphabetic", "dx": -23, "dy": -7, "color": "#000"}, "encoding": {"x": {"datum": 0.55, "type": "quantitative", "axis": null}, "y": {"datum": 6, "type": "quantitative", "axis": null}}},
 {"data": {"values": [{}]}, "mark": {"type": "text", "text": "Bj", "font": "Liberation Serif", "fontStyle": "italic", "fontSize": 12, "align": "left", "baseline": "alphabetic", "dx": -18, "dy": -2, "color": "#000"}, "encoding": {"x": {"datum": 0.55, "type": "quantitative", "axis": null}, "y": {"datum": 6, "type": "quantitative", "axis": null}}},
 {"data": {"values": [{}]}, "mark": {"type": "text", "text": "= 0.3", "font": "Liberation Serif", "fontSize": 18, "align": "left", "baseline": "alphabetic", "dx": -3, "dy": -7, "color": "#000"}, "encoding": {"x": {"datum": 0.55, "type": "quantitative", "axis": null}, "y": {"datum": 6, "type": "quantitative", "axis": null}}}
]},
{"width": 328, "height": 255, "resolve": {"axis": {"x": "independent", "y": "independent"}}, "layer": [
 {"data": {"name": "d"}, "transform": [{"filter": "datum.m==='rmse' && datum.p===0.5"}], "mark": {"type": "line", "strokeWidth": 1.2}, "encoding": {
   "x": {"field": "x", "type": "quantitative", "scale": {"domain": [0.1, 1.0], "nice": false, "zero": false}, "axis": {"values": [0.1,0.2,0.3,0.4,0.5,0.6,0.7,0.8,0.9,1.0], "labelExpr": "replace(format(datum.value, '.1f'), '.', '. ')", "title": "PPV/NPV"}},
   "y": {"field": "v", "type": "quantitative", "scale": {"domain": [0, 6], "nice": false, "zero": false}, "axis": {"values": [0,1,2,3,4,5,6], "labelExpr": "replace(format(datum.value, '~g'), '.', '. ')", "title": "Modified RMSE", "titlePadding": 3}},
   "detail": {"field": "model"},
   "color": {"condition": [{"test": "datum.model==='Cloglog model'", "value": "#6fa7cf"}, {"test": "datum.model==='Logit model'", "value": "#7a3e9d"}], "value": "#e486e1"}}},
 {"data": {"values": [{}]}, "mark": {"type": "rule", "color": "#f03434", "strokeWidth": 1.3}, "encoding": {"y": {"datum": 0, "type": "quantitative", "axis": null}}},
 {"data": {"name": "d"}, "transform": [{"filter": "datum.m==='rmse' && datum.p===0.5"}], "mark": {"type": "point", "filled": false, "size": 16, "strokeWidth": 0.9, "opacity": 1}, "encoding": {
   "x": {"field": "x", "type": "quantitative", "axis": {"orient": "bottom", "tickCount": 45, "labels": false, "domain": false, "title": null, "tickSize": 2, "tickWidth": 0.7, "tickColor": "#555"}},
   "y": {"field": "v", "type": "quantitative", "axis": {"orient": "left", "tickCount": 60, "labels": false, "domain": false, "title": null, "tickSize": 2, "tickWidth": 0.7, "tickColor": "#555"}},
   "color": {"condition": [{"test": "datum.model==='Cloglog model'", "value": "#6fa7cf"}, {"test": "datum.model==='Logit model'", "value": "#7a3e9d"}], "value": "#e486e1"},
   "shape": {"condition": [{"test": "datum.model==='Cloglog model'", "value": "triangle-up"}, {"test": "datum.model==='Logit model'", "value": "circle"}], "value": "square"}}},
 {"data": {"values": [{}]}, "mark": {"type": "text", "text": "φ", "font": "Liberation Serif", "fontStyle": "italic", "fontSize": 22, "align": "center", "baseline": "alphabetic", "dx": -23, "dy": -7, "color": "#000"}, "encoding": {"x": {"datum": 0.565, "type": "quantitative", "axis": null}, "y": {"datum": 6, "type": "quantitative", "axis": null}}},
 {"data": {"values": [{}]}, "mark": {"type": "text", "text": "Bj", "font": "Liberation Serif", "fontStyle": "italic", "fontSize": 12, "align": "left", "baseline": "alphabetic", "dx": -18, "dy": -2, "color": "#000"}, "encoding": {"x": {"datum": 0.565, "type": "quantitative", "axis": null}, "y": {"datum": 6, "type": "quantitative", "axis": null}}},
 {"data": {"values": [{}]}, "mark": {"type": "text", "text": "= 0.5", "font": "Liberation Serif", "fontSize": 18, "align": "left", "baseline": "alphabetic", "dx": -3, "dy": -7, "color": "#000"}, "encoding": {"x": {"datum": 0.565, "type": "quantitative", "axis": null}, "y": {"datum": 6, "type": "quantitative", "axis": null}}}
]},
{"width": 328, "height": 255, "resolve": {"axis": {"x": "independent", "y": "independent"}}, "layer": [
 {"data": {"name": "d"}, "transform": [{"filter": "datum.m==='ciw' && datum.p===0.1"}], "mark": {"type": "line", "strokeWidth": 1.2}, "encoding": {
   "x": {"field": "x", "type": "quantitative", "scale": {"domain": [0.1, 1.0], "nice": false, "zero": false}, "axis": {"values": [0.1,0.2,0.3,0.4,0.5,0.6,0.7,0.8,0.9,1.0], "labelExpr": "replace(format(datum.value, '.1f'), '.', '. ')", "title": "PPV/NPV"}},
   "y": {"field": "v", "type": "quantitative", "scale": {"domain": [0, 1], "nice": false, "zero": false}, "axis": {"values": [0,0.2,0.4,0.6,0.8,1], "labelExpr": "replace(format(datum.value, '~g'), '.', '. ')", "title": "Average width of CIs", "titlePadding": 13}},
   "detail": {"field": "model"},
   "color": {"condition": [{"test": "datum.model==='Cloglog model'", "value": "#6fa7cf"}, {"test": "datum.model==='Logit model'", "value": "#7a3e9d"}], "value": "#e486e1"}}},
 {"data": {"values": [{}]}, "mark": {"type": "rule", "color": "#f03434", "strokeWidth": 1.3}, "encoding": {"y": {"datum": 1, "type": "quantitative", "axis": null}}},
 {"data": {"name": "d"}, "transform": [{"filter": "datum.m==='ciw' && datum.p===0.1"}], "mark": {"type": "point", "filled": false, "size": 16, "strokeWidth": 0.9, "opacity": 1}, "encoding": {
   "x": {"field": "x", "type": "quantitative", "axis": {"orient": "bottom", "tickCount": 45, "labels": false, "domain": false, "title": null, "tickSize": 2, "tickWidth": 0.7, "tickColor": "#555"}},
   "y": {"field": "v", "type": "quantitative", "axis": {"orient": "left", "tickCount": 50, "labels": false, "domain": false, "title": null, "tickSize": 2, "tickWidth": 0.7, "tickColor": "#555"}},
   "color": {"condition": [{"test": "datum.model==='Cloglog model'", "value": "#6fa7cf"}, {"test": "datum.model==='Logit model'", "value": "#7a3e9d"}], "value": "#e486e1"},
   "shape": {"condition": [{"test": "datum.model==='Cloglog model'", "value": "triangle-up"}, {"test": "datum.model==='Logit model'", "value": "circle"}], "value": "square"}}},
 {"data": {"values": [{}]}, "mark": {"type": "text", "text": "φ", "font": "Liberation Serif", "fontStyle": "italic", "fontSize": 22, "align": "center", "baseline": "alphabetic", "dx": -23, "dy": -12, "color": "#000"}, "encoding": {"x": {"datum": 0.536, "type": "quantitative", "axis": null}, "y": {"datum": 1, "type": "quantitative", "axis": null}}},
 {"data": {"values": [{}]}, "mark": {"type": "text", "text": "Bj", "font": "Liberation Serif", "fontStyle": "italic", "fontSize": 12, "align": "left", "baseline": "alphabetic", "dx": -18, "dy": -7, "color": "#000"}, "encoding": {"x": {"datum": 0.536, "type": "quantitative", "axis": null}, "y": {"datum": 1, "type": "quantitative", "axis": null}}},
 {"data": {"values": [{}]}, "mark": {"type": "text", "text": "= 0.1", "font": "Liberation Serif", "fontSize": 18, "align": "left", "baseline": "alphabetic", "dx": -3, "dy": -12, "color": "#000"}, "encoding": {"x": {"datum": 0.536, "type": "quantitative", "axis": null}, "y": {"datum": 1, "type": "quantitative", "axis": null}}}
]},
{"width": 328, "height": 255, "resolve": {"axis": {"x": "independent", "y": "independent"}}, "layer": [
 {"data": {"name": "d"}, "transform": [{"filter": "datum.m==='ciw' && datum.p===0.3"}], "mark": {"type": "line", "strokeWidth": 1.2}, "encoding": {
   "x": {"field": "x", "type": "quantitative", "scale": {"domain": [0.1, 1.0], "nice": false, "zero": false}, "axis": {"values": [0.1,0.2,0.3,0.4,0.5,0.6,0.7,0.8,0.9,1.0], "labelExpr": "replace(format(datum.value, '.1f'), '.', '. ')", "title": "PPV/NPV"}},
   "y": {"field": "v", "type": "quantitative", "scale": {"domain": [0, 1], "nice": false, "zero": false}, "axis": {"values": [0,0.2,0.4,0.6,0.8,1], "labelExpr": "replace(format(datum.value, '~g'), '.', '. ')", "title": "Average width of CIs", "titlePadding": 4}},
   "detail": {"field": "model"},
   "color": {"condition": [{"test": "datum.model==='Cloglog model'", "value": "#6fa7cf"}, {"test": "datum.model==='Logit model'", "value": "#7a3e9d"}], "value": "#e486e1"}}},
 {"data": {"values": [{}]}, "mark": {"type": "rule", "color": "#f03434", "strokeWidth": 1.3}, "encoding": {"y": {"datum": 1, "type": "quantitative", "axis": null}}},
 {"data": {"name": "d"}, "transform": [{"filter": "datum.m==='ciw' && datum.p===0.3"}], "mark": {"type": "point", "filled": false, "size": 16, "strokeWidth": 0.9, "opacity": 1}, "encoding": {
   "x": {"field": "x", "type": "quantitative", "axis": {"orient": "bottom", "tickCount": 45, "labels": false, "domain": false, "title": null, "tickSize": 2, "tickWidth": 0.7, "tickColor": "#555"}},
   "y": {"field": "v", "type": "quantitative", "axis": {"orient": "left", "tickCount": 50, "labels": false, "domain": false, "title": null, "tickSize": 2, "tickWidth": 0.7, "tickColor": "#555"}},
   "color": {"condition": [{"test": "datum.model==='Cloglog model'", "value": "#6fa7cf"}, {"test": "datum.model==='Logit model'", "value": "#7a3e9d"}], "value": "#e486e1"},
   "shape": {"condition": [{"test": "datum.model==='Cloglog model'", "value": "triangle-up"}, {"test": "datum.model==='Logit model'", "value": "circle"}], "value": "square"}}},
 {"data": {"values": [{}]}, "mark": {"type": "text", "text": "φ", "font": "Liberation Serif", "fontStyle": "italic", "fontSize": 22, "align": "center", "baseline": "alphabetic", "dx": -23, "dy": -12, "color": "#000"}, "encoding": {"x": {"datum": 0.55, "type": "quantitative", "axis": null}, "y": {"datum": 1, "type": "quantitative", "axis": null}}},
 {"data": {"values": [{}]}, "mark": {"type": "text", "text": "Bj", "font": "Liberation Serif", "fontStyle": "italic", "fontSize": 12, "align": "left", "baseline": "alphabetic", "dx": -18, "dy": -7, "color": "#000"}, "encoding": {"x": {"datum": 0.55, "type": "quantitative", "axis": null}, "y": {"datum": 1, "type": "quantitative", "axis": null}}},
 {"data": {"values": [{}]}, "mark": {"type": "text", "text": "= 0.3", "font": "Liberation Serif", "fontSize": 18, "align": "left", "baseline": "alphabetic", "dx": -3, "dy": -12, "color": "#000"}, "encoding": {"x": {"datum": 0.55, "type": "quantitative", "axis": null}, "y": {"datum": 1, "type": "quantitative", "axis": null}}}
]},
{"width": 328, "height": 255, "resolve": {"axis": {"x": "independent", "y": "independent"}}, "layer": [
 {"data": {"name": "d"}, "transform": [{"filter": "datum.m==='ciw' && datum.p===0.5"}], "mark": {"type": "line", "strokeWidth": 1.2}, "encoding": {
   "x": {"field": "x", "type": "quantitative", "scale": {"domain": [0.1, 1.0], "nice": false, "zero": false}, "axis": {"values": [0.1,0.2,0.3,0.4,0.5,0.6,0.7,0.8,0.9,1.0], "labelExpr": "replace(format(datum.value, '.1f'), '.', '. ')", "title": "PPV/NPV"}},
   "y": {"field": "v", "type": "quantitative", "scale": {"domain": [0, 1], "nice": false, "zero": false}, "axis": {"values": [0,0.2,0.4,0.6,0.8,1], "labelExpr": "replace(format(datum.value, '~g'), '.', '. ')", "title": "Average width of CIs", "titlePadding": 3}},
   "detail": {"field": "model"},
   "color": {"condition": [{"test": "datum.model==='Cloglog model'", "value": "#6fa7cf"}, {"test": "datum.model==='Logit model'", "value": "#7a3e9d"}], "value": "#e486e1"}}},
 {"data": {"values": [{}]}, "mark": {"type": "rule", "color": "#f03434", "strokeWidth": 1.3}, "encoding": {"y": {"datum": 1, "type": "quantitative", "axis": null}}},
 {"data": {"name": "d"}, "transform": [{"filter": "datum.m==='ciw' && datum.p===0.5"}], "mark": {"type": "point", "filled": false, "size": 16, "strokeWidth": 0.9, "opacity": 1}, "encoding": {
   "x": {"field": "x", "type": "quantitative", "axis": {"orient": "bottom", "tickCount": 45, "labels": false, "domain": false, "title": null, "tickSize": 2, "tickWidth": 0.7, "tickColor": "#555"}},
   "y": {"field": "v", "type": "quantitative", "axis": {"orient": "left", "tickCount": 50, "labels": false, "domain": false, "title": null, "tickSize": 2, "tickWidth": 0.7, "tickColor": "#555"}},
   "color": {"condition": [{"test": "datum.model==='Cloglog model'", "value": "#6fa7cf"}, {"test": "datum.model==='Logit model'", "value": "#7a3e9d"}], "value": "#e486e1"},
   "shape": {"condition": [{"test": "datum.model==='Cloglog model'", "value": "triangle-up"}, {"test": "datum.model==='Logit model'", "value": "circle"}], "value": "square"}}},
 {"data": {"values": [{}]}, "mark": {"type": "text", "text": "φ", "font": "Liberation Serif", "fontStyle": "italic", "fontSize": 22, "align": "center", "baseline": "alphabetic", "dx": -23, "dy": -12, "color": "#000"}, "encoding": {"x": {"datum": 0.565, "type": "quantitative", "axis": null}, "y": {"datum": 1, "type": "quantitative", "axis": null}}},
 {"data": {"values": [{}]}, "mark": {"type": "text", "text": "Bj", "font": "Liberation Serif", "fontStyle": "italic", "fontSize": 12, "align": "left", "baseline": "alphabetic", "dx": -18, "dy": -7, "color": "#000"}, "encoding": {"x": {"datum": 0.565, "type": "quantitative", "axis": null}, "y": {"datum": 1, "type": "quantitative", "axis": null}}},
 {"data": {"values": [{}]}, "mark": {"type": "text", "text": "= 0.5", "font": "Liberation Serif", "fontSize": 18, "align": "left", "baseline": "alphabetic", "dx": -3, "dy": -12, "color": "#000"}, "encoding": {"x": {"datum": 0.565, "type": "quantitative", "axis": null}, "y": {"datum": 1, "type": "quantitative", "axis": null}}}
]}
]
}
]
}
],
"config": {
 "view": {"stroke": null},
 "axis": {"grid": false, "domainColor": "#000", "domainWidth": 1, "tickColor": "#000", "tickWidth": 1, "tickSize": 3, "labelFont": "Liberation Sans", "labelFontSize": 8.5, "labelColor": "#333", "labelPadding": 2, "labelFlush": false, "labelOverlap": false, "titleFont": "DejaVu Sans Mono", "titleFontWeight": "bold", "titleFontSize": 9.5, "titleColor": "#000"},
 "axisX": {"labelPadding": 5, "titlePadding": 5, "titleFont": "Liberation Sans", "titleFontSize": 9},
 "axisY": {"minExtent": 30, "maxExtent": 30},
 "legend": {"padding": 0, "labelFont": "DejaVu Sans Mono", "labelFontSize": 20, "labelColor": "#000", "symbolSize": 1150, "symbolStrokeWidth": 1.3, "labelOffset": 7, "columnPadding": 24}
}
}
